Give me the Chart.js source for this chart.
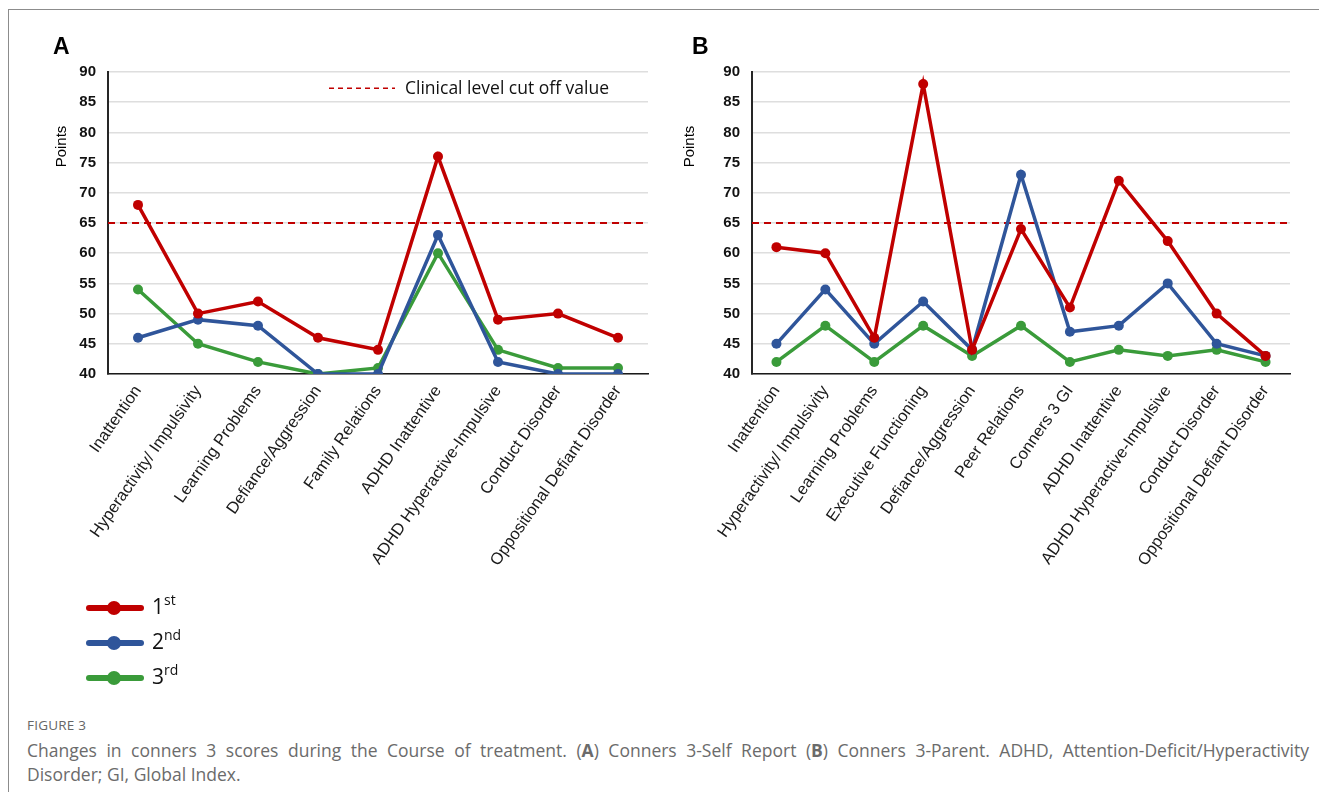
<!DOCTYPE html>
<html>
<head>
<meta charset="utf-8">
<script src="https://cdn.jsdelivr.net/npm/chart.js@4.4.1/dist/chart.umd.min.js"></script>
<style>
  body { margin: 0; background: #fff; width: 1319px; height: 792px; overflow: hidden; position: relative; font-family: "Open Sans", sans-serif; }
  .frame-top { position: absolute; left: 8px; top: 9px; width: 1311px; height: 0; border-top: 1.5px solid #8c8c8c; }
  .frame-left { position: absolute; left: 8px; top: 9px; width: 0; height: 783px; border-left: 1.5px solid #8c8c8c; }
  canvas { position: absolute; top: 0; }
  #chartA { left: 0; }
  #chartB { left: 660px; }
  .panel { position: absolute; font-family: "Liberation Sans", Arial, sans-serif; font-weight: bold; font-size: 23px; color: #000; }
  .ytitle { position: absolute; font-family: "Liberation Sans", Arial, sans-serif; font-size: 15px; color: #000; transform: rotate(-90deg); transform-origin: center; white-space: nowrap; }
  .legend { position: absolute; left: 86px; top: 590px; }
  .legend .row { position: relative; height: 35px; }
  .legend .ln { position: absolute; left: 0; top: 15px; width: 58px; height: 6px; border-radius: 3px; }
  .legend .dot { position: absolute; left: 21px; top: 11px; width: 14px; height: 14px; border-radius: 50%; }
  .legend .tx { position: absolute; left: 66px; top: 2px; font-family: "Open Sans", sans-serif; font-size: 21px; color: #111; white-space: nowrap; }
  .legend .tx sup { font-size: 14px; vertical-align: 9px; line-height: 0; }
  .figlabel { position: absolute; left: 27px; top: 716px; font-size: 13.5px; color: #666; font-weight: 400; letter-spacing: 0.2px; }
  .caption { position: absolute; left: 27px; top: 738px; width: 1282px; font-size: 17.5px; line-height: 24px; color: #6b6b6b; }
  .caption .l1 { display: block; text-align: justify; text-align-last: justify; }
</style>
</head>
<body>
<div class="frame-top"></div>
<div class="frame-left"></div>
<canvas id="chartA" width="660" height="600"></canvas>
<canvas id="chartB" width="659" height="600"></canvas>
<div class="panel" style="left:53px; top:33px;">A</div>
<div class="panel" style="left:692px; top:33px;">B</div>
<div class="ytitle" style="left:40px; top:138px;">Points</div>
<div class="ytitle" style="left:668px; top:138px;">Points</div>

<div class="legend" id="legend"></div>

<div class="figlabel">FIGURE 3</div>
<div class="caption"><span class="l1">Changes in conners 3 scores during the Course of treatment. (<b>A</b>) Conners 3-Self Report (<b>B</b>) Conners 3-Parent. ADHD, Attention-Deficit/Hyperactivity</span>Disorder; GI, Global Index.</div>

<script>
// Panel A - Conners 3 Self Report
const labelsA = ['Inattention', 'Hyperactivity/ Impulsivity', 'Learning Problems', 'Defiance/Aggression',
    'Family Relations', 'ADHD Inattentive', 'ADHD Hyperactive-Impulsive', 'Conduct Disorder', 'Oppositional Defiant Disorder'];
const firstA = [68, 50, 52, 46, 44, 76, 49, 50, 46];
const secondA = [46, 49, 48, 40, 40, 63, 42, 40, 40];
const thirdA = [54, 45, 42, 40, 41, 60, 44, 41, 41];

// Panel B - Conners 3 Parent
const labelsB = ['Inattention', 'Hyperactivity/ Impulsivity', 'Learning Problems', 'Executive Functioning',
    'Defiance/Aggression', 'Peer Relations', 'Conners 3 GI', 'ADHD Inattentive', 'ADHD Hyperactive-Impulsive',
    'Conduct Disorder', 'Oppositional Defiant Disorder'];
const firstB = [61, 60, 46, 88, 44, 64, 51, 72, 62, 50, 43];
const secondB = [45, 54, 45, 52, 44, 73, 47, 48, 55, 45, 43];
const thirdB = [42, 48, 42, 48, 43, 48, 42, 44, 43, 44, 42];

const cutoff = 65;
const yMin = 40, yMax = 90, yStep = 5;
const seriesNames = ['1st', '2nd', '3rd'];
const colors = ['#c00000', '#2f559a', '#3a9b3a'];

// Linea discontinua del valor de corte clinico
const cutoffPlugin = {
    id: 'cutoff',
    beforeDatasetsDraw(chart, args, opts) {
        const { ctx, chartArea, scales } = chart;
        const y = scales.y.getPixelForValue(cutoff);
        ctx.save();
        ctx.strokeStyle = '#c00000';
        ctx.lineWidth = 2;
        ctx.setLineDash([7, 5]);
        ctx.beginPath();
        ctx.moveTo(chartArea.left, y);
        ctx.lineTo(chartArea.right, y);
        ctx.stroke();
        if (opts.showLegend) {
            const ly = scales.y.getPixelForValue(87.3);
            ctx.lineWidth = 1.5;
            ctx.setLineDash([5, 4]);
            ctx.beginPath();
            ctx.moveTo(329, ly);
            ctx.lineTo(395, ly);
            ctx.stroke();
            ctx.setLineDash([]);
            ctx.fillStyle = '#111';
            ctx.font = '17.5px "Open Sans", sans-serif';
            ctx.textBaseline = 'middle';
            ctx.fillText('Clinical level cut off value', 405, ly + 1);
        }
        ctx.restore();
    }
};

function makeDatasets(values) {
    return values.map((v, i) => ({
        label: seriesNames[i],
        data: v,
        borderColor: colors[i],
        backgroundColor: colors[i],
        borderWidth: 3.5,
        pointRadius: 5,
        pointBorderWidth: 0,
        tension: 0
    }));
}

function crearGrafico(id, labels, values, yWidth, padRight, showLegend) {
    const ctx = document.getElementById(id).getContext('2d');
    return new Chart(ctx, {
        type: 'line',
        data: { labels: labels, datasets: makeDatasets(values) },
        options: {
            responsive: false,
            animation: false,
            events: [],
            layout: { padding: { top: 72, right: padRight, left: 0, bottom: 0 } },
            scales: {
                x: {
                    offset: true,
                    afterFit: s => { s.height = 226; },
                    grid: { display: false, drawTicks: false },
                    border: { display: true, color: '#1a1a1a', width: 1.5 },
                    ticks: {
                        autoSkip: false, maxRotation: 55, minRotation: 55, padding: 8,
                        color: '#1a1a1a',
                        font: { family: '"Liberation Sans", Arial, sans-serif', size: 16.5 }
                    }
                },
                y: {
                    min: yMin, max: yMax,
                    afterFit: s => { s.width = yWidth; },
                    grid: { color: '#dedede', lineWidth: 1.5, drawTicks: false },
                    border: { display: true, color: '#262626', width: 2 },
                    ticks: {
                        stepSize: yStep, padding: 12, color: '#111',
                        font: { family: '"Liberation Sans Narrow", "Liberation Sans", Arial, sans-serif', size: 15, weight: 'bold' }
                    }
                }
            },
            plugins: {
                legend: { display: false },
                tooltip: { enabled: false },
                cutoff: { showLegend: showLegend }
            }
        },
        plugins: [cutoffPlugin]
    });
}

crearGrafico('chartA', labelsA, [firstA, secondA, thirdA], 108, 12, true);
crearGrafico('chartB', labelsB, [firstB, secondB, thirdB], 92, 29, false);

// Leyenda inferior
const legend = document.getElementById('legend');
const sups = ['st', 'nd', 'rd'];
seriesNames.forEach((name, i) => {
    const row = document.createElement('div');
    row.className = 'row';
    row.innerHTML = `<div class="ln" style="background:${colors[i]}"></div>
        <div class="dot" style="background:${colors[i]}"></div>
        <div class="tx">${name.charAt(0)}<sup>${sups[i]}</sup></div>`;
    legend.appendChild(row);
});
</script>
</body>
</html>
